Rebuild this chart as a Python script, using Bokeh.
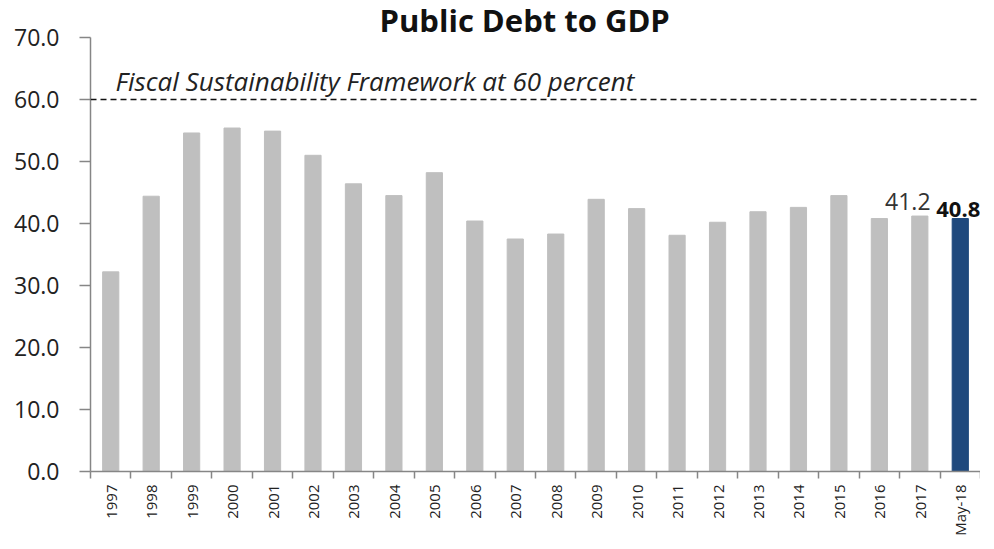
import math
from bokeh.plotting import figure
from bokeh.models import Range1d, FixedTicker, Span, Label, NumeralTickFormatter, ColumnDataSource
from bokeh.embed import file_html
from bokeh.resources import INLINE

# ---- data ----
categories = ["1997", "1998", "1999", "2000", "2001", "2002", "2003", "2004",
              "2005", "2006", "2007", "2008", "2009", "2010", "2011", "2012",
              "2013", "2014", "2015", "2016", "2017", "May-18"]
values = [32.2, 44.4, 54.6, 55.4, 54.9, 51.0, 46.4, 44.5,
          48.2, 40.4, 37.5, 38.3, 43.9, 42.4, 38.1, 40.2,
          41.9, 42.6, 44.5, 40.8, 41.2, 40.8]
y_ticks = [0, 10, 20, 30, 40, 50, 60, 70]
threshold = 60
threshold_text = "Fiscal Sustainability Framework at 60 percent"
title_text = "Public Debt to GDP"

GREY = "#BFBFBF"
NAVY = "#1F497D"
AXIS = "#868686"
FONT = "Open Sans"

n = len(categories)
centers = [i + 0.5 for i in range(n)]
bounds = [i for i in range(n + 1)]
colors = [GREY] * (n - 1) + [NAVY]

src = ColumnDataSource(dict(x=centers, top=values, color=colors))

p = figure(width=980, height=541, output_backend="svg", toolbar_location=None,
           x_range=Range1d(0, n), y_range=Range1d(0, 70),
           min_border_left=90, min_border_right=0, min_border_top=37,
           min_border_bottom=70)
p.outline_line_color = None
p.xgrid.visible = False
p.ygrid.visible = False

p.title.text = title_text
p.title.align = "left"
p.title.text_font = FONT
p.title.text_font_size = "31px"
p.title.text_font_style = "bold"
p.title.text_color = "#111111"
p.title.standoff = -7
p.title.offset = 289

p.vbar(x="x", top="top", width=0.4, color="color", source=src)

# threshold line
p.add_layout(Span(location=threshold, dimension="width", line_color="#111111",
                  line_width=1.5, line_dash="6 4"))
p.add_layout(Label(x=0.62, y=threshold, y_offset=19, text=threshold_text,
                   text_font=FONT, text_font_size="26px", text_font_style="italic",
                   text_color="#222222", text_baseline="alphabetic"))

# value labels
p.add_layout(Label(x=centers[-2], y=values[-2], x_offset=-12, y_offset=15,
                   text=f"{values[-2]:.1f}", text_align="center",
                   text_baseline="alphabetic", text_font=FONT,
                   text_font_size="23px", text_color="#333333"))
p.add_layout(Label(x=centers[-1], y=values[-1], x_offset=-2, y_offset=9,
                   text=f"{values[-1]:.1f}", text_align="center",
                   text_baseline="alphabetic", text_font=FONT,
                   text_font_size="22px", text_font_style="bold",
                   text_color="#111111"))

# y axis
ya = p.yaxis[0]
ya.ticker = FixedTicker(ticks=y_ticks)
ya.formatter = NumeralTickFormatter(format="0.0")
ya.axis_line_color = AXIS
ya.axis_line_width = 1.5
ya.major_tick_line_color = AXIS
ya.major_tick_line_width = 1.5
ya.major_tick_out = 11
ya.major_tick_in = 0
ya.minor_tick_line_color = None
ya.major_label_standoff = 20
ya.major_label_text_font = FONT
ya.major_label_text_font_size = "23px"
ya.major_label_text_color = "#222222"

# x axis
xa = p.xaxis[0]
xa.ticker = FixedTicker(ticks=centers, minor_ticks=bounds)
xa.major_label_overrides = {c: lab for c, lab in zip(centers, categories)}
xa.major_label_orientation = math.pi / 2
xa.axis_line_color = AXIS
xa.axis_line_width = 1.5
xa.major_tick_line_color = None
xa.major_tick_out = 7
xa.major_tick_in = 0
xa.minor_tick_line_color = AXIS
xa.minor_tick_line_width = 1.5
xa.minor_tick_out = 7
xa.minor_tick_in = 0
xa.major_label_standoff = 6
xa.major_label_text_font = FONT
xa.major_label_text_font_size = "15px"
xa.major_label_text_color = "#222222"

open("out.html", "w").write(file_html(p, INLINE))
